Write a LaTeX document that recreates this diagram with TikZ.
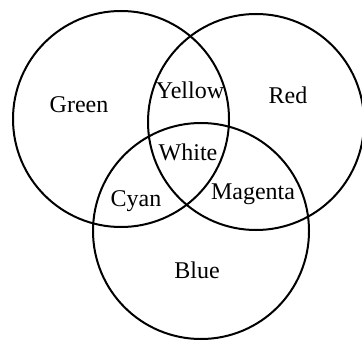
\documentclass[tikz,border=0pt]{standalone}
\usepackage{fontspec}
\setmainfont{Liberation Serif}
\usepackage{tikz}

\begin{document}
\begin{tikzpicture}[
    x=0.5pt, y=-0.5pt,
    ring/.style={draw, circle, line width=1pt, minimum size=108pt, inner sep=0pt},
    lbl/.style={font=\fontsize{12}{14}\selectfont, inner sep=1pt}
]
\useasboundingbox (0,0) rectangle (362,341);
% Primary circles
\node[ring] (green) at (121,119) {};
\node[ring] (red) at (256,122) {};
\node[ring] (blue) at (201,231) {};
% Labels
\node[lbl] (greenlbl) at (79,105) {Green};
\node[lbl] (redlbl) at (288,95) {Red};
\node[lbl] (bluelbl) at (197,270) {Blue};
\node[lbl] (yellowlbl) at (190,90) {Yellow};
\node[lbl] (whitelbl) at (188,152) {White};
\node[lbl] (cyanlbl) at (136,201) {Cyan};
\node[lbl] (magentalbl) at (253,194) {Magenta};
\end{tikzpicture}
\end{document}
